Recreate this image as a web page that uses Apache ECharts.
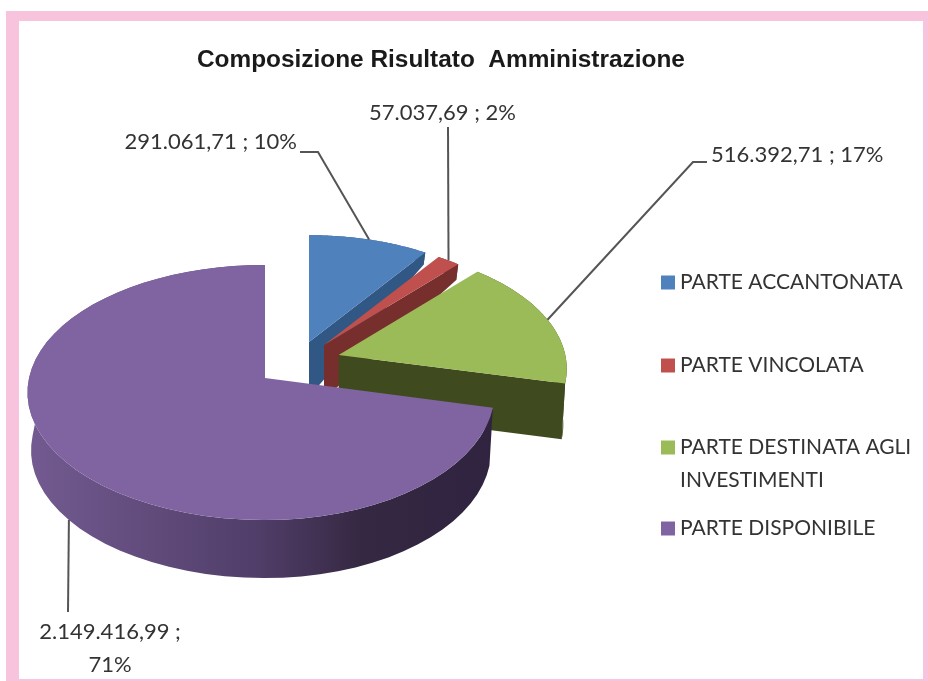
<!DOCTYPE html>
<html>
<head>
<meta charset="utf-8">
<style>
  html, body { margin: 0; padding: 0; background: #fff; }
  #chart { width: 928px; height: 681px; }
</style>
<script src="https://cdn.jsdelivr.net/npm/echarts@6/dist/echarts.min.js"></script>
</head>
<body>
<div id="chart"></div>
<script>
const titleText = 'Composizione Risultato  Amministrazione'
const categories = ['PARTE ACCANTONATA', 'PARTE VINCOLATA', 'PARTE DESTINATA AGLI INVESTIMENTI', 'PARTE DISPONIBILE']
const values = [291061.71, 57037.69, 516392.71, 2149416.99]

const topColors = ['#4f81bd', '#c0504d', '#9bbb59', '#8064a2']
const sideColors = ['#315784', '#772f2d', '#3f4a1e', {
  type: 'linear', x: 0, y: 0, x2: 1, y2: 0,
  colorStops: [
    { offset: 0, color: '#735b91' },
    { offset: 0.5, color: '#503d68' },
    { offset: 0.72, color: '#352842' },
    { offset: 1, color: '#2f2340' }
  ]
}]

// each slice: where its point sits and how much the explode shrinks it
const centers = [[309, 342], [324, 345], [338.7, 355], [265, 378]]
const scales = [0.945, 0.93, 0.96, 1]
const radiusX = 236
const radiusLeft = 236
const radiusRight = 228
const radiusY = 125.9
const perspective = 0.1137
const wallDepth = 58
const wallNarrow = 0.985

// label text placement and the bend of each leader line
const labelAt = [[297, 142, 'right'], [369, 113, 'left'], [711, 155, 'left'], [110, 648, 'center']]
const bends = [[[318, 152], [300, 152]], [[448, 127]], [[693, 162], [707, 162]], [[68, 612]]]
const legendTops = [266, 349, 398, 512]

const total = values.reduce((a, b) => a + b, 0)

const formatValue = (v) => {
  const [whole, dec] = v.toFixed(2).split('.')
  return whole.replace(/\B(?=(\d{3})+$)/g, '.') + ',' + dec
}

const startAngle = (i) => values.slice(0, i).reduce((a, b) => a + b, 0) / total * Math.PI * 2

// point on the top face, angle clockwise from 12 o'clock
const rimPoint = (i, angle) => {
  const X = Math.sin(angle)
  const Y = Math.cos(angle)
  const w = 1 + perspective * Y
  let rx = radiusX
  if (i === 3) rx = X < 0 ? radiusLeft : radiusRight
  return {
    x: centers[i][0] + scales[i] * rx * X / w,
    y: centers[i][1] - scales[i] * radiusY * Y / w,
    Y
  }
}

// same point dropped to the bottom of the wall
const dropPoint = (i, p, Y) => {
  const back = Y > 0 ? 1 - Y * 0.95 : 1
  return [
    centers[i][0] + (p.x - centers[i][0]) * wallNarrow,
    p.y + wallDepth * scales[i] * back
  ]
}

const renderSlice = (params, api) => {
  const i = params.seriesIndex
  const value = api.value(0)
  const a0 = startAngle(i)
  const a1 = a0 + value / total * Math.PI * 2
  const steps = 60
  const rim = []
  for (let s = 0; s <= steps; s++) {
    rim.push(rimPoint(i, a0 + (a1 - a0) * s / steps))
  }
  const c = centers[i]
  const apex = { x: c[0], y: c[1], Y: 0 }
  const children = []

  // walls first, the top face is painted over them
  const wall = rim.map(p => [p.x, p.y]).concat(rim.slice().reverse().map(p => dropPoint(i, p, p.Y)))
  children.push({ type: 'polygon', shape: { points: wall }, style: { fill: sideColors[i] } })
  if (i < 3) {
    const tip = rim[steps]
    children.push({
      type: 'polygon',
      shape: { points: [[c[0], c[1]], [tip.x, tip.y], dropPoint(i, tip, tip.Y), dropPoint(i, apex, 0)] },
      style: { fill: sideColors[i] }
    })
  }
  children.push({
    type: 'polygon',
    shape: { points: [[c[0], c[1]]].concat(rim.map(p => [p.x, p.y])) },
    style: { fill: topColors[i] }
  })

  // leader line starts on the rim at the middle of the slice
  const mid = rimPoint(i, (a0 + a1) / 2)
  const start = i === 3 ? dropPoint(i, mid, mid.Y) : [mid.x, mid.y]
  children.push({
    type: 'polyline',
    shape: { points: [start].concat(bends[i]) },
    style: { fill: 'none', stroke: '#555', lineWidth: 2 }
  })

  const pct = Math.round(value / total * 100) + '%'
  const val = formatValue(value) + ' ;'
  children.push({
    type: 'text',
    style: {
      x: labelAt[i][0],
      y: labelAt[i][1],
      text: i === 3 ? val + '\n' + pct : val + ' ' + pct,
      align: labelAt[i][2],
      verticalAlign: 'middle',
      fill: '#333',
      font: '22px Lato',
      lineHeight: 33
    }
  })
  return { type: 'group', children }
}

const band = (x, y, width, height) => ({
  type: 'rect',
  shape: { x, y, width, height },
  style: { fill: '#f8c3dd' },
  silent: true
})

const chart = echarts.init(document.getElementById('chart'))
chart.setOption({
  animation: false,
  backgroundColor: '#fff',
  title: {
    text: titleText,
    left: 197,
    top: 48,
    padding: 0,
    textStyle: { fontFamily: 'Liberation Sans', fontWeight: 'bold', fontSize: 24.4, color: '#1a1a1a' }
  },
  legend: categories.map((name, i) => ({
    data: [name],
    left: 661,
    top: legendTops[i],
    padding: 0,
    orient: 'vertical',
    icon: 'rect',
    itemWidth: 14,
    itemHeight: 14,
    selectedMode: false,
    formatter: (n) => n.length > 25 ? '\n' + n.replace(' INVESTIMENTI', '\nINVESTIMENTI') : n,
    textStyle: { fontFamily: 'Lato', fontSize: 21, color: '#333', lineHeight: 33 }
  })),
  graphic: [
    band(6, 11, 922, 10),
    band(6, 11, 13, 670),
    band(923, 11, 5, 670),
    band(6, 679, 922, 2)
  ],
  series: categories.map((name, i) => ({
    type: 'custom',
    name,
    coordinateSystem: 'none',
    silent: true,
    itemStyle: { color: topColors[i] },
    renderItem: renderSlice,
    data: [values[i]]
  }))
})
</script>
</body>
</html>
